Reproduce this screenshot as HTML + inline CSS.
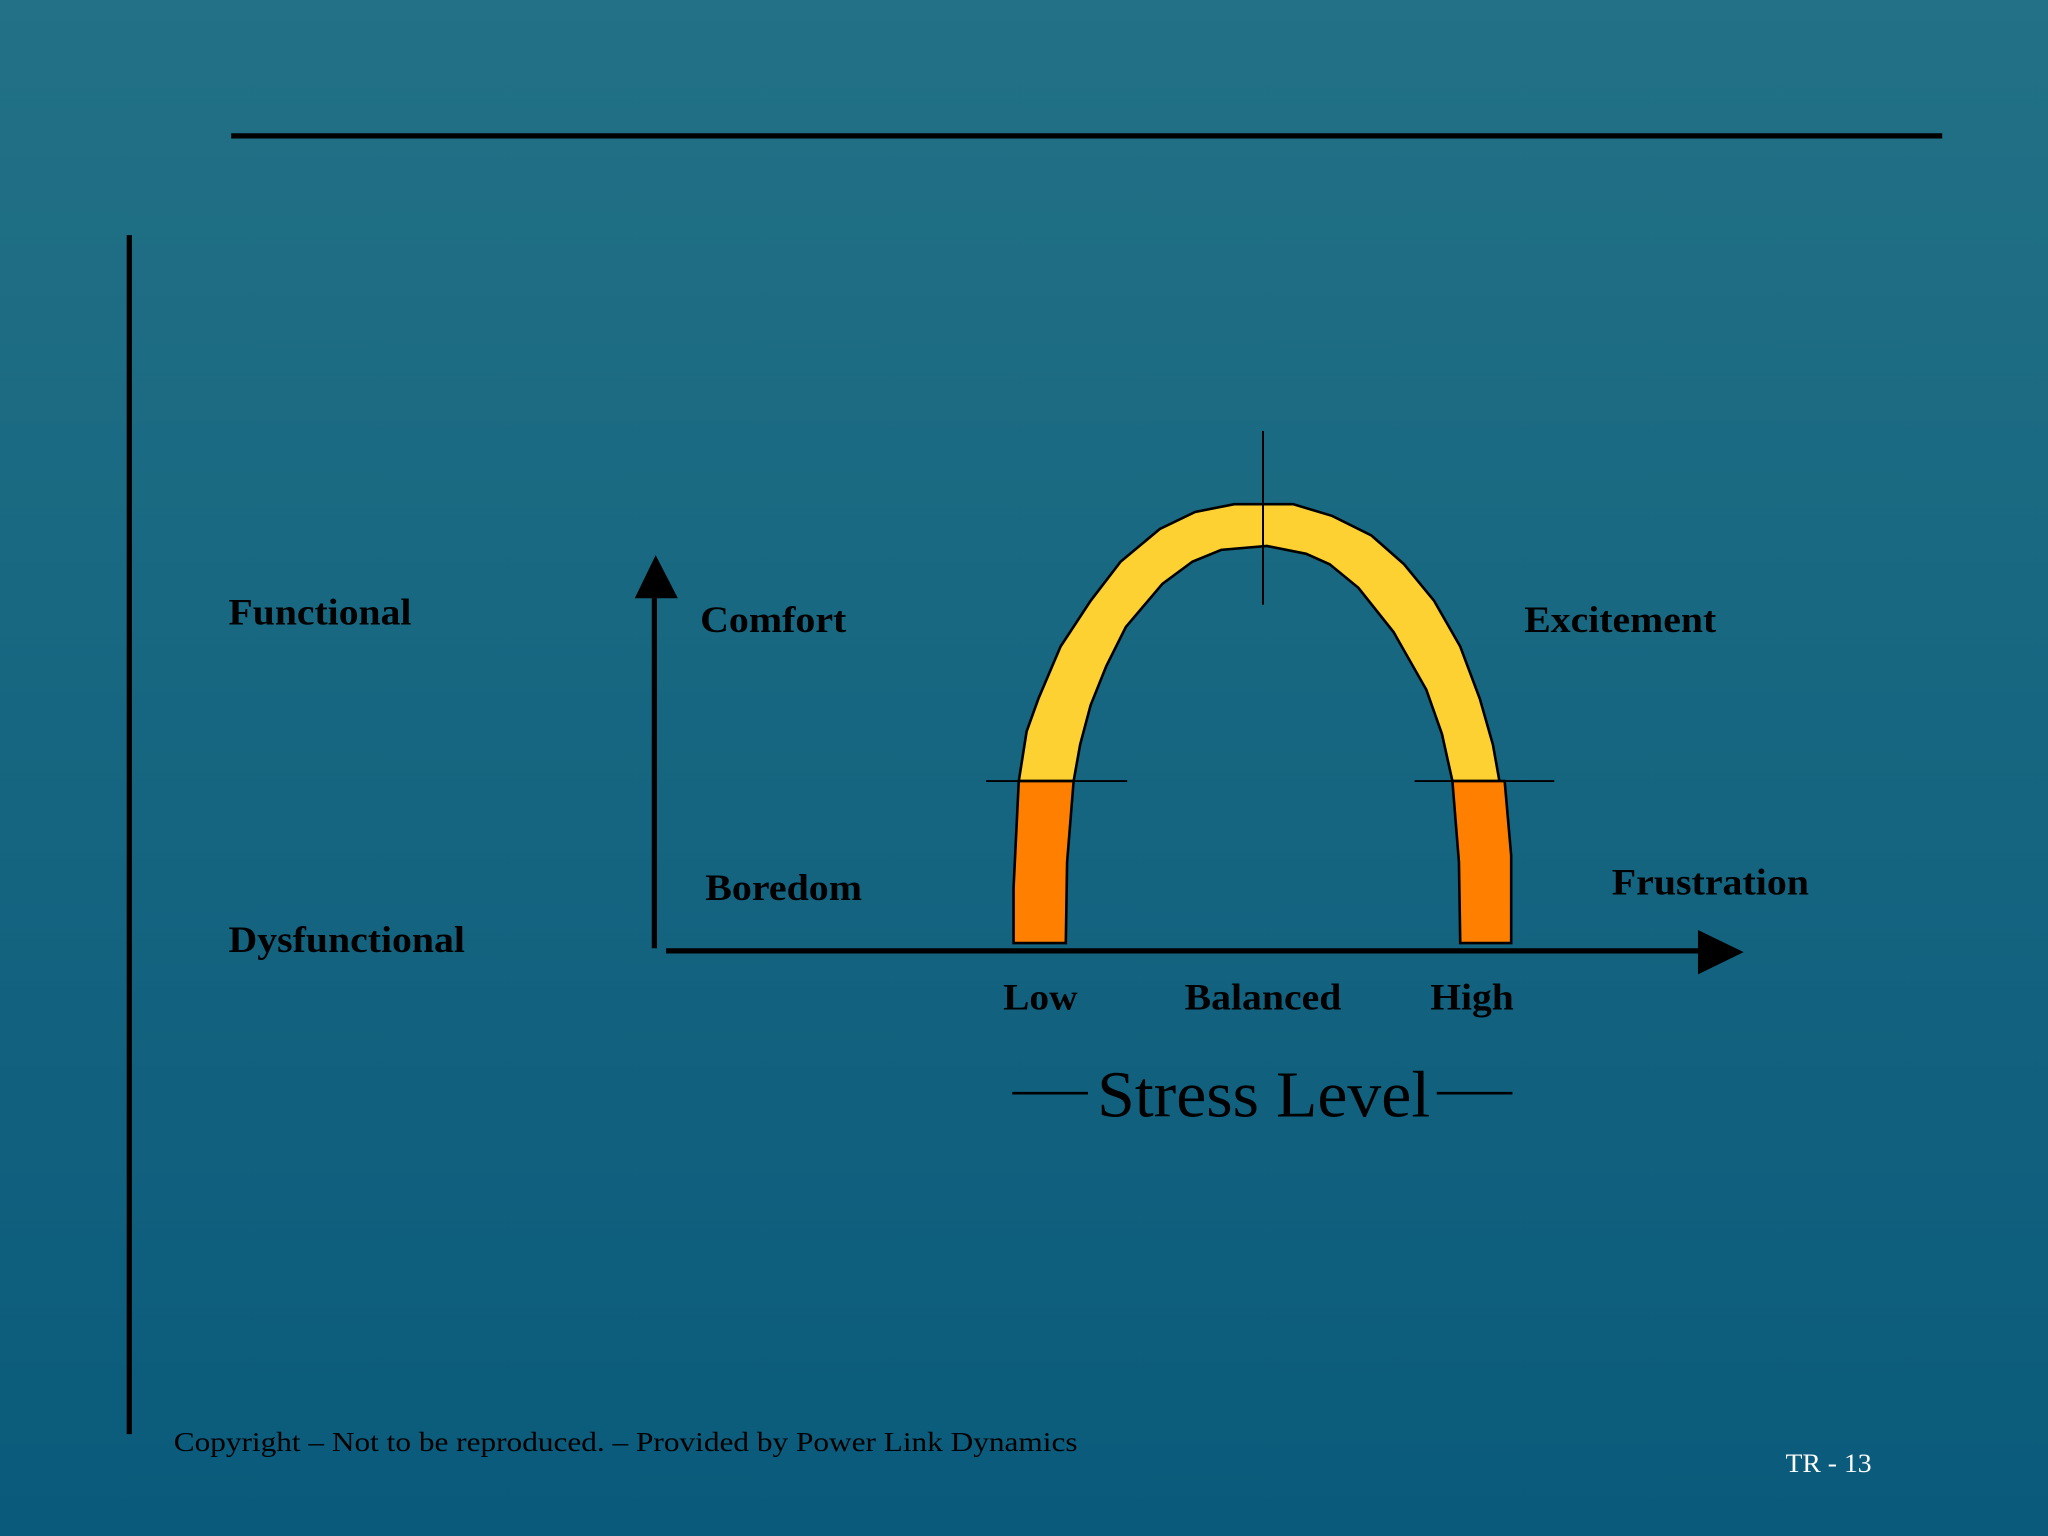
<!DOCTYPE html>
<html><head><meta charset="utf-8"><style>
html,body{margin:0;padding:0;width:2048px;height:1536px;overflow:hidden}
svg{display:block}
text{font-family:"Liberation Serif",serif}
</style></head><body>
<svg width="2048" height="1536" viewBox="0 0 1568 1176" xmlns="http://www.w3.org/2000/svg">
<defs><linearGradient id="bg" x1="0" y1="0" x2="0" y2="1">
<stop offset="0" stop-color="#227186"/><stop offset="1" stop-color="#0a5a7b"/></linearGradient></defs>
<rect width="1568" height="1176" fill="url(#bg)"/>
<line x1="177" y1="104" x2="1487" y2="104" stroke="#000" stroke-width="4"/>
<line x1="99" y1="180" x2="99" y2="1098" stroke="#000" stroke-width="4"/>
<path d="M780,598 L786,560 L795,535 L812,495 L835,460 L858,430 L888,405 L915,392 L945,386 L990,386 L1020,395 L1050,410 L1075,432 L1098,460 L1118,495 L1133,535 L1143,570 L1148,598 L1112,598 L1104,562 L1092,528 L1067,484 L1040,450 L1018,432 L1000,424 L970,418 L935,421 L913,430 L890,447 L862,480 L847,510 L835,540 L827,570 L822,598 Z" fill="#fdd132" stroke="#000" stroke-width="2"/>
<path d="M780,598 L822,598 L817,660 L816,722 L776,722 L776,680 Z" fill="#ff8000" stroke="#000" stroke-width="2"/>
<path d="M1112,598 L1152,598 L1157,655 L1157,722 L1118,722 L1117,660 Z" fill="#ff8000" stroke="#000" stroke-width="2"/>
<line x1="967" y1="330" x2="967" y2="463" stroke="#000" stroke-width="1.5"/>
<line x1="755" y1="598" x2="863" y2="598" stroke="#000" stroke-width="1.5"/>
<line x1="1083" y1="598" x2="1190" y2="598" stroke="#000" stroke-width="1.5"/>
<line x1="501" y1="455" x2="501" y2="726" stroke="#000" stroke-width="4"/>
<polygon points="486,458 502,425 519,458" fill="#000"/>
<line x1="510" y1="728" x2="1302" y2="728" stroke="#000" stroke-width="4"/>
<polygon points="1300,712 1335,729 1300,746" fill="#000"/>
<g font-weight="bold" font-size="28" fill="#000">
<text x="175" y="478" textLength="140" lengthAdjust="spacingAndGlyphs">Functional</text>
<text x="536" y="484" textLength="112" lengthAdjust="spacingAndGlyphs">Comfort</text>
<text x="1167" y="484" textLength="147" lengthAdjust="spacingAndGlyphs">Excitement</text>
<text x="540" y="689" textLength="120" lengthAdjust="spacingAndGlyphs">Boredom</text>
<text x="1234" y="685" textLength="151" lengthAdjust="spacingAndGlyphs">Frustration</text>
<text x="175" y="729" textLength="181" lengthAdjust="spacingAndGlyphs">Dysfunctional</text>
<text x="768" y="773" textLength="57" lengthAdjust="spacingAndGlyphs">Low</text>
<text x="907" y="773" textLength="120" lengthAdjust="spacingAndGlyphs">Balanced</text>
<text x="1095" y="773" textLength="64" lengthAdjust="spacingAndGlyphs">High</text>
</g>
<text x="840" y="855" font-size="50" fill="#000" textLength="255" lengthAdjust="spacingAndGlyphs">Stress Level</text>
<line x1="775" y1="837" x2="833" y2="837" stroke="#000" stroke-width="2"/>
<line x1="1100" y1="837" x2="1158" y2="837" stroke="#000" stroke-width="2"/>
<text x="133" y="1111" font-size="21" fill="#000" textLength="692" lengthAdjust="spacingAndGlyphs">Copyright – Not to be reproduced. – Provided by Power Link Dynamics</text>
<text x="1367" y="1127" font-size="20" fill="#fff" textLength="66" lengthAdjust="spacingAndGlyphs">TR - 13</text>
</svg>
</body></html>
